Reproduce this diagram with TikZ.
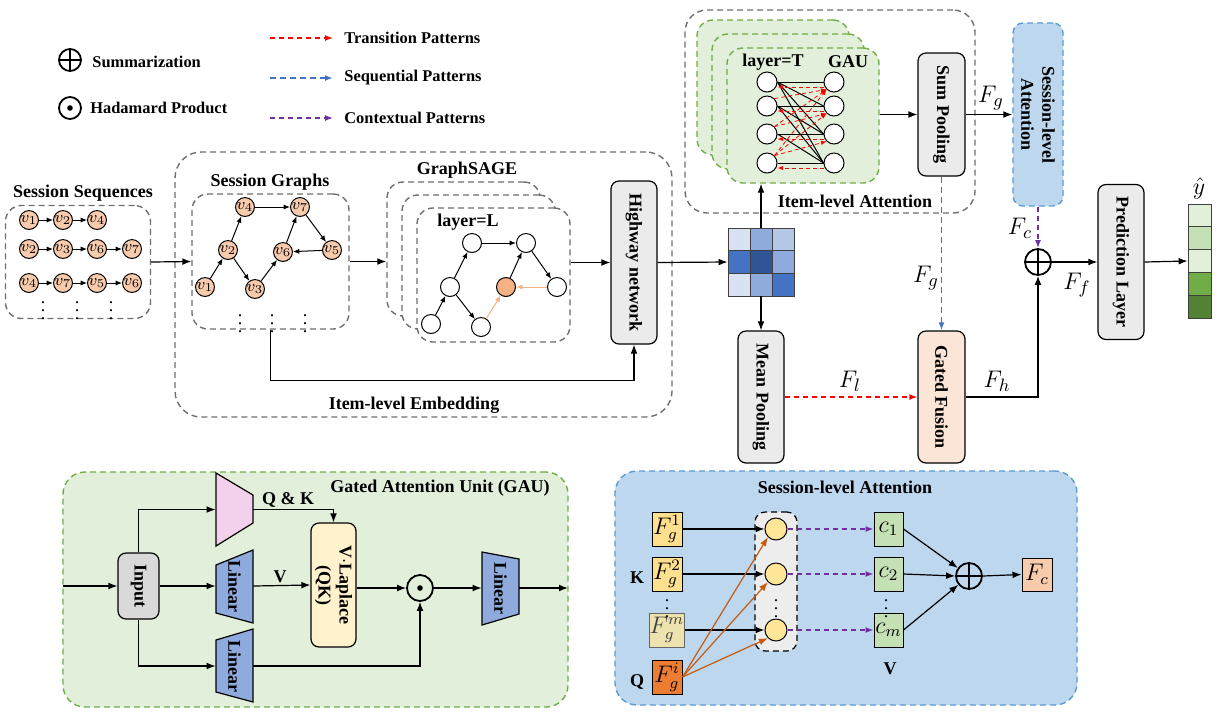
\documentclass[tikz,border=0pt]{standalone}
\usepackage{fontspec}
\setmainfont{Liberation Serif}
\usetikzlibrary{arrows.meta}
\definecolor{dgray}{HTML}{6E6E6E}
\definecolor{boxgray}{HTML}{EBEBEB}
\definecolor{inpgray}{HTML}{D9D9D9}
\definecolor{nodeor}{HTML}{F8CBAD}
\definecolor{orline}{HTML}{F4B183}
\definecolor{gfill}{HTML}{E2EFDA}
\definecolor{gline}{HTML}{70AD47}
\definecolor{bfill}{HTML}{BDD7EE}
\definecolor{bline}{HTML}{5B9BD5}
\definecolor{seqblue}{HTML}{4472C4}
\definecolor{ctxpurple}{HTML}{7030A0}
\definecolor{peach}{HTML}{FBE5D6}
\definecolor{linblue}{HTML}{8FAADC}
\definecolor{pinkq}{HTML}{F3D1EC}
\definecolor{lapy}{HTML}{FFF2CC}
\definecolor{fyel}{HTML}{FFE08F}
\definecolor{fmfade}{HTML}{EDE3AE}
\definecolor{fori}{HTML}{ED7D31}
\definecolor{cgreen}{HTML}{C5E0B4}
\definecolor{fcfill}{HTML}{F8CBAD}
\definecolor{orarrow}{HTML}{C55A11}
\definecolor{cyel}{HTML}{FFE699}
\definecolor{midgray}{HTML}{EDEDED}
\definecolor{mA}{HTML}{D9E2F3}
\definecolor{mB}{HTML}{8FAADC}
\definecolor{mC}{HTML}{B4C7E7}
\definecolor{mD}{HTML}{4472C4}
\definecolor{mE}{HTML}{2F5597}
\definecolor{oA}{HTML}{E2F0D9}
\definecolor{oB}{HTML}{C5E0B4}
\definecolor{oC}{HTML}{70AD47}
\definecolor{oD}{HTML}{548235}
\definecolor{redp}{HTML}{FF0000}
\begin{document}
\begin{tikzpicture}[x=0.5pt,y=-0.5pt,
 every node/.style={font=\bfseries\fontsize{9}{10.5}\selectfont, inner sep=1pt},
 arr/.style={line width=0.6pt,-{Latex[length=4.5pt,width=3.4pt]}},
 sarr/.style={line width=0.5pt,-{Latex[length=3.2pt,width=2.6pt]}},
 dbox/.style={draw=dgray,line width=0.7pt,dash pattern=on 3pt off 2pt,rounded corners=8pt,inner sep=0},
 gdash/.style={draw=gline,fill=gfill,line width=0.7pt,dash pattern=on 3pt off 2pt,rounded corners=8pt,inner sep=0},
 bdash/.style={draw=bline,fill=bfill,line width=0.7pt,dash pattern=on 3pt off 2pt,rounded corners=8pt,inner sep=0},
 gbox/.style={draw,fill=boxgray,line width=0.6pt,rounded corners=4pt,inner sep=0},
 vlab/.style={rotate=-90,align=center},
 snode/.style={circle,draw,fill=nodeor,line width=0.5pt,minimum size=8.5pt,inner sep=0,font=\fontsize{8.5}{9}\selectfont},
 wnode/.style={circle,draw,fill=white,line width=0.5pt,minimum size=9.5pt,inner sep=0},
 osum/.style={circle,draw,line width=0.9pt,inner sep=0,path picture={\draw[line width=0.9pt] (path picture bounding box.north)--(path picture bounding box.south) (path picture bounding box.west)--(path picture bounding box.east);}},
 odt/.style={circle,draw,line width=0.9pt,inner sep=0,path picture={\fill (path picture bounding box.center) circle[radius=1.4pt];}},
 mlab/.style={font=\fontsize{13}{14}\selectfont},
 blab/.style={font=\fontsize{12}{13}\selectfont},
 lgd/.style={font=\bfseries\fontsize{8.2}{9}\selectfont,anchor=west},
 dts/.style={inner sep=0,font=\fontsize{9}{9}\selectfont},
 rdash/.style={redp,line width=0.7pt,dash pattern=on 2.5pt off 2pt,-{Latex[length=4pt,width=3pt]}},
 bldash/.style={seqblue,line width=0.8pt,dash pattern=on 3pt off 2pt,-{Latex[length=4pt,width=3pt]}},
 pdash/.style={ctxpurple,line width=0.7pt,dash pattern=on 2.5pt off 2pt,-{Latex[length=4pt,width=3pt]}},
 rthin/.style={redp,line width=0.4pt,dash pattern=on 2pt off 1.5pt,-{Latex[length=2.8pt,width=2.2pt]}},
 invis/.style={inner sep=0,draw=none}
]
\useasboundingbox (0,0) rectangle (1222,714);

% ---------------- legend
\node[osum,minimum size=11pt] (lsum) at (70,60) {};
\node[lgd] (lsumt) at (90,62) {Summarization};
\node[odt,minimum size=11pt] (ldot) at (70,108) {};
\node[lgd] (ldott) at (88,108) {Hadamard Product};
\coordinate (t1a) at (270,38); \coordinate (t1b) at (333,38);
\coordinate (t2a) at (270,78); \coordinate (t2b) at (333,78);
\coordinate (t3a) at (270,118); \coordinate (t3b) at (333,118);
\draw[rdash] (t1a) -- (t1b);
\draw[bldash] (t2a) -- (t2b);
\draw[pdash] (t3a) -- (t3b);
\node[lgd] (lt1) at (342,38) {Transition Patterns};
\node[lgd] (lt2) at (342,78) {Sequential Patterns};
\node[lgd] (lt3) at (342,118) {Contextual Patterns};

% ---------------- session sequences
\node (seqtitle) at (83,193) {Session Sequences};
\node[dbox,minimum width=72.5pt,minimum height=56.5pt] (seqbox) at (78,262) {};
\foreach \n/\lab/\x/\y in {a1/1/29/220, a2/2/63/220, a3/4/97/220,
  b1/2/29/249, b2/3/63/249, b3/6/97/249, b4/7/132/249,
  c1/4/29/283, c2/7/63/283, c3/5/97/283, c4/6/132/283}
  \node[snode] (s\n) at (\x,\y) {$v_{\lab}$};
\draw[sarr] (sa1)--(sa2); \draw[sarr] (sa2)--(sa3);
\draw[sarr] (sb1)--(sb2); \draw[sarr] (sb2)--(sb3); \draw[sarr] (sb3)--(sb4);
\draw[sarr] (sc1)--(sc2); \draw[sarr] (sc2)--(sc3); \draw[sarr] (sc3)--(sc4);
\node[dts] (sd1) at (43,305) {$\vdots$};
\node[dts] (sd2) at (77,305) {$\vdots$};
\node[dts] (sd3) at (111,305) {$\vdots$};

% ---------------- item-level embedding
\node[dbox,rounded corners=13pt,minimum width=248.5pt,minimum height=132.5pt] (embbox) at (423.5,284.5) {};
\node (embt) at (414,405) {Item-level Embedding};
\node (sgt) at (270,182) {Session Graphs};
\node[dbox,minimum width=78.5pt,minimum height=67.5pt] (sgbox) at (270.5,261.5) {};
\foreach \n/\lab/\x/\y in {g4/4/245/207, g7/7/300/207, g2/2/228/250, g6/6/283/252,
  g5/5/332/250, g1/1/205/287, g3/3/255/289}
  \node[snode] (\n) at (\x,\y) {$v_{\lab}$};
\draw[sarr] (g1)--(g2); \draw[sarr] (g2)--(g4); \draw[sarr] (g4)--(g7);
\draw[sarr] (g7)--(g5); \draw[sarr] (g5)--(g6); \draw[sarr] (g6)--(g7);
\draw[sarr] (g2)--(g3); \draw[sarr] (g3)--(g6);
\node[dts] (gd1) at (240,318) {$\vdots$};
\node[dts] (gd2) at (272,318) {$\vdots$};
\node[dts] (gd3) at (305,318) {$\vdots$};

\node (saget) at (467,170) {GraphSAGE};
\node[dbox,fill=white,minimum width=76.5pt,minimum height=67pt] (sage1) at (463.5,249) {};
\node[dbox,fill=white,minimum width=76.5pt,minimum height=67pt] (sage2) at (478.5,262) {};
\node[dbox,fill=white,minimum width=76.5pt,minimum height=67pt] (sage3) at (493.5,275) {};
\node (layL) at (468,222) {layer=L};
\node[wnode] (na) at (472,243) {};
\node[wnode] (nb) at (526,243) {};
\node[wnode] (nc) at (450,287) {};
\node[wnode,fill=orline] (nd) at (506,287) {};
\node[wnode] (ne) at (557,287) {};
\node[wnode] (nf) at (431,324) {};
\node[wnode] (ng) at (481,327) {};
\draw[sarr] (nf)--(nc); \draw[sarr] (nc)--(na); \draw[sarr] (na)--(nb);
\draw[sarr] (nb)--(ne); \draw[sarr] (nc)--(ng); \draw[sarr] (nd)--(nb);
\draw[sarr,orline] (ng)--(nd); \draw[sarr,orline] (ne)--(nd);

\node[gbox,minimum width=23pt,minimum height=81.5pt] (hw) at (634,262.5) {};
\node[vlab] (hwt) at (hw) {Highway network};

\draw[arr] (seqbox.east) -- (sgbox.west);
\draw[arr] (sgbox.east) -- (sgbox.east -| sage1.west);
\draw[arr] (hw.west -| sage3.east) -- (hw.west);
\draw[arr] (sgbox.south) -- ++(0,51) -| (hw.south);

% ---------------- matrix
\node[invis,minimum width=33pt,minimum height=34pt] (mat) at (761,262) {};
\foreach \c/\r/\col in {0/0/mA,1/0/mB,2/0/mC,0/1/mD,1/1/mE,2/1/mB,0/2/mA,1/2/mB,2/2/mD}
  \filldraw[fill=\col,draw=black!75,line width=0.4pt] (728+22*\c,228+22.67*\r) rectangle (750+22*\c,250.67+22.67*\r);
\draw[arr] (hw.east) -- (mat.west);

% ---------------- item-level attention
\node[dbox,rounded corners=11pt,minimum width=145pt,minimum height=101.5pt] (iabox) at (830,111.5) {};
\node (iat) at (855,201) {Item-level Attention};
\node[gdash,minimum width=76pt,minimum height=67.5pt] (gau1) at (773,87.5) {};
\node[gdash,minimum width=76pt,minimum height=67.5pt] (gau2) at (788,101.5) {};
\node[gdash,minimum width=76pt,minimum height=67.5pt] (gauF) at (803,115.5) {};
\node (layT) at (773,62) {layer=T};
\node (gaut) at (848,62) {GAU};
\foreach \i/\y in {1/82,2/106,3/134,4/163}{
  \node[wnode,minimum size=10pt] (L\i) at (767,\y) {};
  \node[wnode,minimum size=10pt] (R\i) at (834,\y) {};
}
\foreach \i in {1,...,4}{\foreach \j in {\i,...,4}{\draw[line width=0.5pt] (L\i.east) -- (R\j.west);}}
\foreach \i in {1,...,3}{
  \pgfmathtruncatemacro\k{\i+1}
  \foreach \j in {\k,...,4}{\draw[rthin] (L\j.north east) -- (R\i.south west);}}
\foreach \i in {1,...,4}{\draw[rthin] ([yshift=-2.5pt]R\i.west) -- ([yshift=-2.5pt]L\i.east);}
\draw[arr] (mat.north) -- (mat.north |- gauF.south);

\node[gbox,minimum width=23.5pt,minimum height=61.5pt] (sp) at (941.5,114.5) {};
\node[vlab] (spt) at (sp) {Sum Pooling};
\draw[arr] (gauF.east |- sp.west) -- (sp.west);

\node[bdash,rounded corners=5pt,minimum width=25pt,minimum height=91.5pt] (sat) at (1038,114.5) {};
\node[vlab] (satt) at (sat) {Session-level\\Attention};
\draw[arr] (sp.east) -- (sat.west);
\node[mlab] (fg1) at (991,98) {$F_g$};

\node[osum,minimum size=13pt] (sum2) at (1038,262) {};
\draw[pdash] (sat.south) -- (sum2.north);
\node[mlab] (fc1) at (1020,228) {$F_c$};

\node[gbox,minimum width=23pt,minimum height=77.5pt] (pl) at (1121,262) {};
\node[vlab] (plt) at (pl) {Prediction Layer};
\draw[arr] (sum2.east) -- (pl.west);
\node[mlab] (ff1) at (1077,285) {$F_f$};

\node[invis,minimum width=11.5pt,minimum height=57pt] (outv) at (1199.5,261) {};
\foreach \r/\col in {0/oA,1/oB,2/oA,3/oC,4/oD}
  \filldraw[fill=\col,draw=black!75,line width=0.4pt] (1188,204+22.8*\r) rectangle (1211,226.8+22.8*\r);
\draw[arr] (pl.east) -- (outv.west);
\node[mlab] (yh) at (1199,188) {$\hat{y}$};

\node[gbox,minimum width=23pt,minimum height=66pt] (mp) at (761,397) {};
\node[vlab] (mpt) at (mp) {Mean Pooling};
\node[gbox,fill=peach,minimum width=23.5pt,minimum height=66pt] (gf) at (941.5,397) {};
\node[vlab] (gft) at (gf) {Gated Fusion};
\draw[arr] (mat.south) -- (mp.north);
\draw[rdash] (mp.east) -- (gf.west);
\node[mlab] (fl1) at (850,381) {$F_l$};
\draw[bldash] (sp.south) -- (gf.north);
\node[mlab] (fg2) at (926,278) {$F_g$};
\draw[arr] (gf.east) -| (sum2.south);
\node[mlab] (fh1) at (997,381) {$F_h$};

% ---------------- GAU panel
\node[gdash,rounded corners=11pt,minimum width=252.5pt,minimum height=117.5pt] (gaup) at (315.5,589.5) {};
\node (gaupt) at (440,488) {Gated Attention Unit (GAU)};
\node[gbox,fill=inpgray,minimum width=20.5pt,minimum height=33pt] (inp) at (138.5,586) {};
\node[vlab] (inpt) at (inp) {Input};
\coordinate (gin) at (63,586);
\coordinate (gout) at (568,588);
\filldraw[fill=pinkq,line width=0.6pt] (216,473) -- (253,495) -- (253,523) -- (216,546) -- cycle;
\node[invis,minimum width=18.5pt,minimum height=36.5pt] (qk) at (234.5,509.5) {};
\filldraw[fill=linblue,line width=0.6pt] (216,565) -- (253,550) -- (253,623) -- (216,613) -- cycle;
\node[invis,minimum width=18.5pt,minimum height=36.5pt] (lin1) at (234.5,586) {};
\node[vlab] (lin1t) at (lin1) {Linear};
\filldraw[fill=linblue,line width=0.6pt] (216,640) -- (253,629) -- (253,702) -- (216,692) -- cycle;
\node[invis,minimum width=18.5pt,minimum height=36.5pt] (lin2) at (234.5,666) {};
\node[vlab] (lin2t) at (lin2) {Linear};
\filldraw[fill=linblue,line width=0.6pt] (482,552) -- (519,559) -- (519,614) -- (482,625) -- cycle;
\node[invis,minimum width=18.5pt,minimum height=36.5pt] (lin3) at (500.5,588) {};
\node[vlab] (lin3t) at (lin3) {Linear};
\node[gbox,fill=lapy,minimum width=22.5pt,minimum height=62pt] (lap) at (333.5,585) {};
\node[vlab] (lapt) at (lap) {V$\cdot$Laplace\\(QK)};
\node[odt,minimum size=13pt] (hd) at (420,588) {};

\draw[arr] (gin) -- (inp.west);
\draw[arr] (inp.north) |- (qk.west);
\draw[arr] (qk.east) -| (lap.north);
\node (qkl) at (288,500) {Q \& K};
\draw[arr] (inp.east) -- (lin1.west);
\draw[arr] (lin1.east) -- (lap.west);
\node (vl) at (280,577) {V};
\draw[arr] (lap.east |- hd.west) -- (hd.west);
\draw[arr] (inp.south) |- (lin2.west);
\draw[arr] (lin2.east) -| (hd.south);
\draw[arr] (hd.east) -- (lin3.west);
\draw[arr] (lin3.east) -- (gout);

% ---------------- session-level attention panel
\node[bdash,rounded corners=11pt,minimum width=231pt,minimum height=117pt] (slap) at (846,588) {};
\node (slapt) at (845,487) {Session-level Attention};
\node[draw,fill=fyel,line width=0.5pt,minimum width=15pt,minimum height=17pt,inner sep=0,blab] (f1) at (667,529) {$F_g^1$};
\node[draw,fill=fyel,line width=0.5pt,minimum width=15pt,minimum height=17pt,inner sep=0,blab] (f2) at (667,574) {$F_g^2$};
\node[draw=black!60,fill=fmfade,line width=0.5pt,minimum width=15pt,minimum height=17pt,inner sep=0,blab,text=black!75] (fm) at (667,630) {$F_g^m$};
\node[draw,fill=fori,line width=0.5pt,minimum width=15pt,minimum height=17pt,inner sep=0,blab] (fi) at (667,677) {$F_g^i$};
\node (kl) at (637,578) {K};
\node (ql) at (637,682) {Q};
\node[dts] (fdots) at (667,603) {$\vdots$};
\node[draw,fill=midgray,line width=0.6pt,dash pattern=on 3pt off 2pt,rounded corners=5pt,minimum width=21pt,minimum height=69.5pt,inner sep=0] (midb) at (776,581.5) {};
\node[circle,draw,fill=cyel,line width=0.5pt,minimum size=11pt,inner sep=0] (q1) at (776,529) {};
\node[circle,draw,fill=cyel,line width=0.5pt,minimum size=11pt,inner sep=0] (q2) at (776,574) {};
\node[circle,draw,fill=cyel,line width=0.5pt,minimum size=11pt,inner sep=0] (q3) at (776,630) {};
\node[dts] (qdots) at (776,603) {$\vdots$};
\node[draw,fill=cgreen,line width=0.5pt,minimum width=14.5pt,minimum height=17pt,inner sep=0,blab] (c1) at (888.5,529) {$c_1$};
\node[draw,fill=cgreen,line width=0.5pt,minimum width=14.5pt,minimum height=17pt,inner sep=0,blab] (c2) at (888.5,574) {$c_2$};
\node[draw,fill=cgreen,line width=0.5pt,minimum width=14.5pt,minimum height=17pt,inner sep=0,blab] (cm) at (888.5,630) {$c_m$};
\node[dts] (cdots) at (886,603) {$\vdots$};
\node (vl2) at (890,669) {V};
\node[osum,minimum size=13pt] (sum3) at (969,576) {};
\node[draw,fill=fcfill,line width=0.5pt,minimum width=15pt,minimum height=16.5pt,inner sep=0,blab] (fcb) at (1037,574.5) {$F_c$};
\draw[arr] (f1.east) -- (q1.west);
\draw[arr] (f2.east) -- (q2.west);
\draw[arr] (fm.east) -- (q3.west);
\draw[arr,orarrow] (fi.east) -- (q1.south west);
\draw[arr,orarrow] (fi.east) -- (q2.south west);
\draw[arr,orarrow] (fi.east) -- (q3.south west);
\draw[pdash] (q1.east) -- (c1.west);
\draw[pdash] (q2.east) -- (c2.west);
\draw[pdash] (q3.east) -- (cm.west);
\draw[arr] (c1.east) -- (sum3);
\draw[arr] (c2.east) -- (sum3.west);
\draw[arr] (cm.east) -- (sum3);
\draw[arr] (sum3.east) -- (fcb.west);
\end{tikzpicture}
\end{document}
